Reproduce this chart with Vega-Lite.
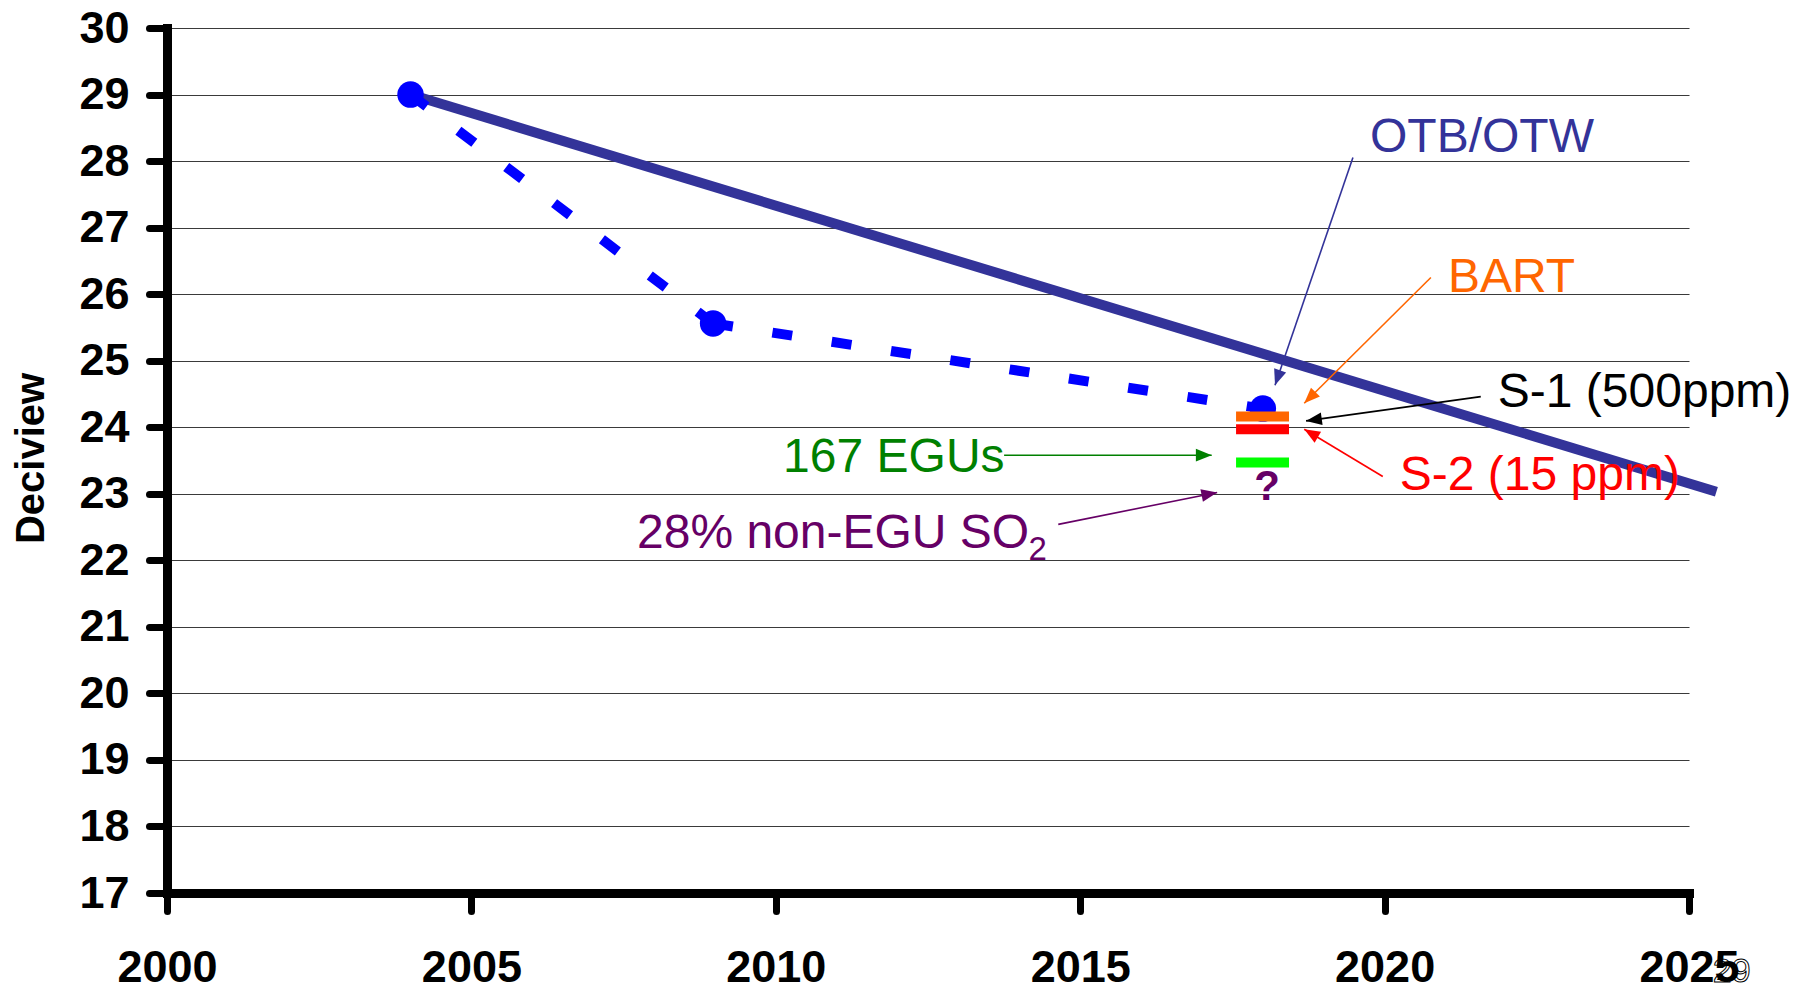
{
  "$schema": "https://vega.github.io/schema/vega-lite/v6.json",
  "width": 1522,
  "height": 865,
  "autosize": "none",
  "padding": {"left": 167, "top": 28, "right": 117, "bottom": 98},
  "background": "white",
  "config": {"view": {"stroke": null}, "text": {"font": "Liberation Sans"}},
  "datasets": {
    "glide": [{"x": 2004, "y": 29}, {"x": 2025.45, "y": 23.03}],
    "progress": [
      {"seg": "a", "x": 2004, "y": 29},
      {"seg": "a", "x": 2008.97, "y": 25.56},
      {"seg": "b", "x": 2008.97, "y": 25.56},
      {"seg": "b", "x": 2018, "y": 24.28}
    ],
    "dots": [{"x": 2004, "y": 29}, {"x": 2008.97, "y": 25.56}, {"x": 2018, "y": 24.28}],
    "scenarios": [
      {"name": "BART", "x": 2017.56, "x2": 2018.43, "y": 24.16},
      {"name": "S2", "x": 2017.56, "x2": 2018.43, "y": 23.97},
      {"name": "EGUbar", "x": 2017.56, "x2": 2018.43, "y": 23.47}
    ],
    "arrows": [
      {"name": "OTB", "x": 2019.48, "y": 28.055, "x2": 2018.2, "y2": 24.63},
      {"name": "BART", "x": 2020.76, "y": 26.25, "x2": 2018.68, "y2": 24.36},
      {"name": "S1", "x": 2021.58, "y": 24.46, "x2": 2018.71, "y2": 24.095},
      {"name": "S2", "x": 2019.97, "y": 23.26, "x2": 2018.68, "y2": 23.97},
      {"name": "EGU", "x": 2013.75, "y": 23.58, "x2": 2017.16, "y2": 23.58},
      {"name": "NEGU", "x": 2014.64, "y": 22.54, "x2": 2017.25, "y2": 23.02}
    ],
    "labels": [
      {"name": "OTB", "text": "OTB/OTW", "x": 2019.76, "y": 28.135},
      {"name": "BART", "text": "BART", "x": 2021.04, "y": 26.03},
      {"name": "S1", "text": "S-1 (500ppm)", "x": 2021.86, "y": 24.3},
      {"name": "S2", "text": "S-2 (15 ppm)", "x": 2020.25, "y": 23.05},
      {"name": "EGU", "text": "167 EGUs", "x": 2010.12, "y": 23.32},
      {"name": "NEGU", "text": "28% non-EGU SO", "x": 2007.72, "y": 22.18}
    ],
    "sub": [{"name": "NEGU", "text": "2", "x": 2014.15, "y": 22.01}],
    "qmark": [{"name": "NEGU", "text": "?", "x": 2018.07, "y": 22.9}],
    "slide": [{"text": "29", "x": 2025.39, "y": 15.66}]
  },
  "layer": [
    {
      "data": {"name": "glide"},
      "mark": {"type": "line", "color": "#333399", "strokeWidth": 10, "strokeCap": "butt"},
      "encoding": {
        "x": {
          "field": "x", "type": "quantitative",
          "scale": {"domain": [2000, 2025], "nice": false, "zero": false},
          "axis": {
            "title": null, "values": [2000, 2005, 2010, 2015, 2020, 2025], "format": "d",
            "grid": false, "domainColor": "black", "domainWidth": 9, "domainCap": "square",
            "tickColor": "black", "tickWidth": 7, "tickSize": 18, "tickCap": "round",
            "labelFont": "Liberation Sans", "labelFontWeight": "bold", "labelFontSize": 45,
            "labelColor": "black", "labelPadding": 34, "labelFlush": false, "labelOverlap": false,
            "zindex": 1
          }
        },
        "y": {
          "field": "y", "type": "quantitative",
          "scale": {"domain": [17, 30], "nice": false, "zero": false},
          "axis": {
            "title": "Deciview", "values": [17, 18, 19, 20, 21, 22, 23, 24, 25, 26, 27, 28, 29, 30],
            "format": "d",
            "grid": true, "gridColor": "#3a3a3a", "gridWidth": 1.2,
            "domainColor": "black", "domainWidth": 9, "domainCap": "square",
            "tickColor": "black", "tickWidth": 7, "tickSize": 18, "tickCap": "round",
            "labelFont": "Liberation Sans", "labelFontWeight": "bold", "labelFontSize": 45,
            "labelColor": "black", "labelPadding": 20, "labelOverlap": false,
            "titleFont": "Liberation Sans", "titleFontWeight": "bold", "titleFontSize": 40,
            "titleColor": "black", "titleAngle": -90, "titleX": -124, "titleY": 430,
            "titleAlign": "center", "titleBaseline": "alphabetic"
          }
        }
      }
    },
    {
      "data": {"name": "progress"},
      "mark": {"type": "line", "color": "#0000FF", "strokeWidth": 10, "strokeDash": [20, 40], "strokeCap": "butt"},
      "encoding": {
        "x": {"field": "x", "type": "quantitative"},
        "y": {"field": "y", "type": "quantitative"},
        "detail": {"field": "seg"}
      }
    },
    {
      "data": {"name": "dots"},
      "mark": {"type": "point", "shape": "circle", "filled": true, "color": "#0000FF", "size": 700, "opacity": 1},
      "encoding": {
        "x": {"field": "x", "type": "quantitative"},
        "y": {"field": "y", "type": "quantitative"}
      }
    },
    {
      "data": {"name": "scenarios"},
      "mark": {"type": "rule", "strokeWidth": 10, "strokeCap": "butt"},
      "encoding": {
        "x": {"field": "x", "type": "quantitative"},
        "x2": {"field": "x2"},
        "y": {"field": "y", "type": "quantitative"},
        "color": {
          "field": "name", "type": "nominal", "legend": null,
          "scale": {
            "domain": ["OTB", "BART", "S1", "S2", "EGU", "NEGU", "EGUbar"],
            "range": ["#333399", "#FF6600", "#000000", "#FF0000", "#008000", "#660066", "#00FF00"]
          }
        }
      }
    },
    {
      "data": {"name": "arrows"},
      "mark": {"type": "rule", "strokeWidth": 1.6},
      "encoding": {
        "x": {"field": "x", "type": "quantitative"},
        "y": {"field": "y", "type": "quantitative"},
        "x2": {"field": "x2"},
        "y2": {"field": "y2"},
        "color": {"field": "name", "type": "nominal", "legend": null}
      }
    },
    {
      "data": {"name": "arrows"},
      "mark": {"type": "point", "shape": "M0,0L-0.4,1L0.4,1Z", "filled": true, "size": 1000, "opacity": 1, "strokeWidth": 0},
      "encoding": {
        "x": {"field": "x2", "type": "quantitative"},
        "y": {"field": "y2", "type": "quantitative"},
        "color": {"field": "name", "type": "nominal", "legend": null},
        "angle": {
          "field": "name", "type": "nominal", "legend": null,
          "scale": {"type": "ordinal", "domain": ["OTB", "BART", "S1", "S2", "EGU", "NEGU"], "range": [198.9, 225.2, 262, 300.7, 90, 78.6]}
        }
      }
    },
    {
      "data": {"name": "labels"},
      "mark": {"type": "text", "align": "left", "baseline": "alphabetic", "fontSize": 48, "font": "Liberation Sans"},
      "encoding": {
        "x": {"field": "x", "type": "quantitative"},
        "y": {"field": "y", "type": "quantitative"},
        "text": {"field": "text"},
        "color": {"field": "name", "type": "nominal", "legend": null}
      }
    },
    {
      "data": {"name": "sub"},
      "mark": {"type": "text", "align": "left", "baseline": "alphabetic", "fontSize": 33, "font": "Liberation Sans"},
      "encoding": {
        "x": {"field": "x", "type": "quantitative"},
        "y": {"field": "y", "type": "quantitative"},
        "text": {"field": "text"},
        "color": {"field": "name", "type": "nominal", "legend": null}
      }
    },
    {
      "data": {"name": "qmark"},
      "mark": {"type": "text", "align": "center", "baseline": "alphabetic", "fontSize": 42, "fontWeight": "bold", "font": "Liberation Sans"},
      "encoding": {
        "x": {"field": "x", "type": "quantitative"},
        "y": {"field": "y", "type": "quantitative"},
        "text": {"field": "text"},
        "color": {"field": "name", "type": "nominal", "legend": null}
      }
    },
    {
      "data": {"name": "slide"},
      "mark": {"type": "text", "align": "left", "baseline": "alphabetic", "fontSize": 34, "font": "Liberation Sans", "fill": "white", "stroke": "black", "strokeWidth": 1},
      "encoding": {
        "x": {"field": "x", "type": "quantitative"},
        "y": {"field": "y", "type": "quantitative"},
        "text": {"field": "text"}
      }
    }
  ]
}
